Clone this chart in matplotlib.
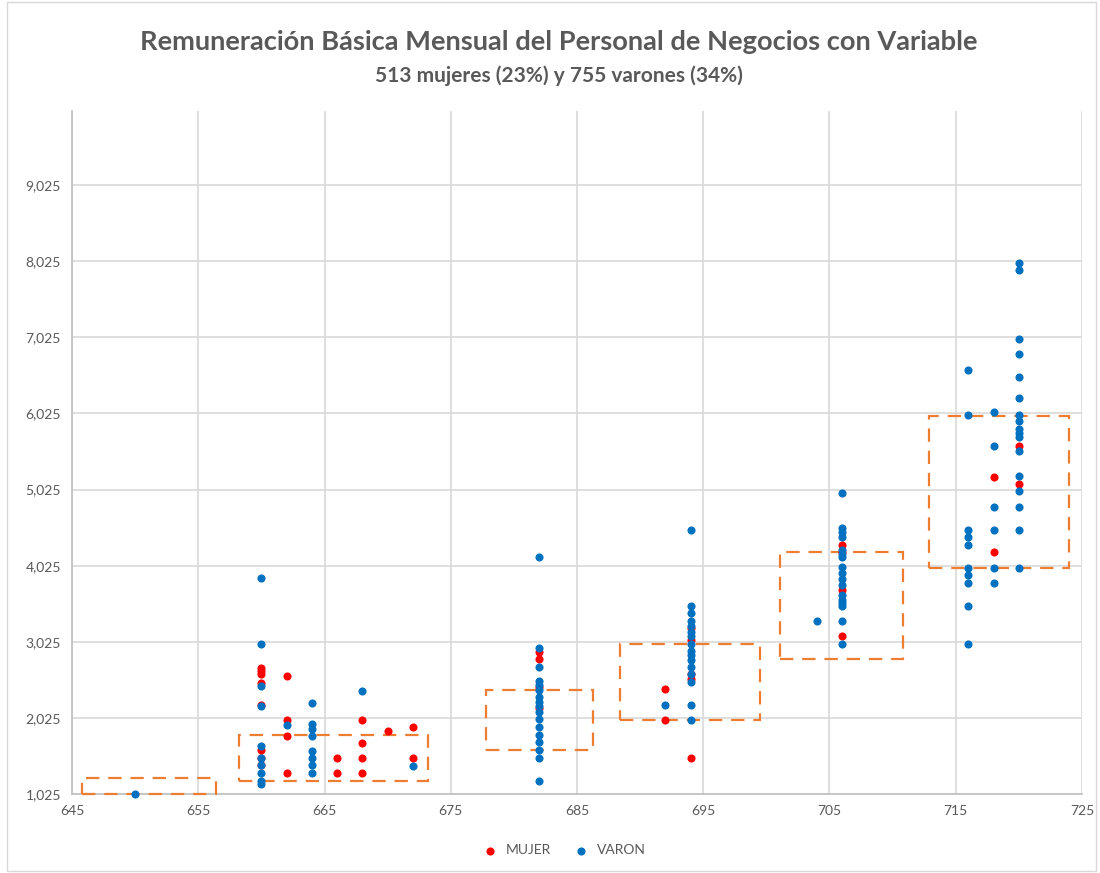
import numpy as np
import matplotlib.pyplot as plt
from matplotlib.patches import Rectangle

# datos
mujer_x = [660]*8 + [662]*4 + [666]*2 + [668]*4 + [670] + [672]*2 + [682]*4 \
    + [692]*2 + [694]*5 + [706]*4 + [718]*2 + [720]*2
mujer_y = [2680, 2640, 2600, 2480, 2200, 1600, 1500, 1400,
           2575, 2000, 1790, 1300,
           1500, 1300,
           2000, 1695, 1495, 1300,
           1850,
           1900, 1495,
           2895, 2800, 2430, 2150,
           2400, 2000,
           3200, 3050, 2600, 2540, 1500,
           4300, 4200, 3705, 3105,
           5195, 4200,
           5600, 5100]

varon_x = [650] + [660]*10 + [662] + [664]*8 + [668] + [672] + [682]*17 \
    + [692] + [694]*16 + [704] + [706]*17 + [716]*10 + [718]*6 + [720]*17
varon_y = [1025,
           3865, 3000, 2440, 2180, 1650, 1500, 1400, 1300, 1200, 1150,
           1930,
           2220, 1950, 1880, 1790, 1595, 1495, 1400, 1300,
           2380,
           1395,
           4135, 2940, 2700, 2515, 2460, 2390, 2300, 2240, 2185, 2105, 2005,
           1900, 1800, 1705, 1600, 1500, 1195,
           2200,
           4495, 3500, 3400, 3300, 3230, 3160, 3100, 3000, 2900, 2850, 2790,
           2700, 2600, 2500, 2200, 2000,
           3300,
           4980, 4520, 4470, 4405, 4230, 4180, 4140, 4010, 3930, 3850, 3770,
           3640, 3580, 3530, 3490, 3300, 3000,
           6600, 6000, 4500, 4400, 4300, 4000, 3900, 3800, 3500, 3000,
           6045, 5600, 4800, 4500, 4000, 3800,
           8005, 7905, 7000, 6800, 6500, 6225, 6010, 5920, 5820, 5770, 5720,
           5535, 5200, 5010, 4800, 4500, 4000]

# rangos (cajas punteadas)
box_x0 = [645.8, 658.2, 677.8, 688.4, 701.1, 712.9]
box_x1 = [656.4, 673.2, 686.3, 699.5, 710.8, 724.0]
box_y0 = [1025, 1196, 1603, 1997, 2799, 3995]
box_y1 = [1235, 1800, 2392, 2996, 4205, 5992]

title = 'Remuneración Básica Mensual del Personal de Negocios con Variable'
subtitle = '513 mujeres (23%) y 755 varones (34%)'

plt.rcParams['font.family'] = ['Lato', 'DejaVu Sans']
gray = '#595959'

fig = plt.figure(figsize=(11, 8.73), dpi=100)
ax = fig.add_axes([0.0655, 0.0905, 0.9181, 0.7824])

for x0, x1, y0, y1 in zip(box_x0, box_x1, box_y0, box_y1):
    ax.add_patch(Rectangle((x0, y0), x1 - x0, y1 - y0, fill=False, clip_on=False,
                           edgecolor='#ED7D31', lw=1.6, ls=(0, (6, 4)), zorder=2.6))

ax.scatter(mujer_x, mujer_y, s=34, color='#FF0000', label='MUJER', zorder=3,
           linewidths=0, clip_on=False)
ax.scatter(varon_x, varon_y, s=34, color='#0070C0', label='VARON', zorder=4,
           linewidths=0, clip_on=False)

ax.set_xlim(645, 725)
ax.set_ylim(1025, 10000)
ax.set_xticks(np.arange(645, 726, 10))
ax.set_yticks(np.arange(1025, 10000, 1000))
ax.set_yticklabels(['{:,}'.format(v) for v in np.arange(1025, 10000, 1000)])
ax.grid(True, color='#D9D9D9', lw=1.2)
ax.set_axisbelow(True)
for s in ['top', 'right']:
    ax.spines[s].set_visible(False)
for s in ['left', 'bottom']:
    ax.spines[s].set_color('#BFBFBF')
    ax.spines[s].set_linewidth(1.2)
ax.tick_params(length=0, labelsize=10, colors=gray, pad=8)

fig.text(0.508, 0.952, title, ha='center', va='center', fontsize=19.6,
         fontweight='bold', color=gray)
fig.text(0.508, 0.913, subtitle, ha='center', va='center', fontsize=15,
         fontweight='bold', color=gray)

fig.legend(loc='center', bbox_to_anchor=(0.51, 0.026), ncol=2, frameon=False,
           fontsize=10, labelcolor=gray, handletextpad=0.1, markerscale=1.0,
           columnspacing=1.2)

fig.patches.append(Rectangle((0.006, 0.002), 0.99, 0.996, transform=fig.transFigure,
                             fill=False, edgecolor='#D9D9D9', lw=1))

plt.savefig('out.png', dpi=100)
